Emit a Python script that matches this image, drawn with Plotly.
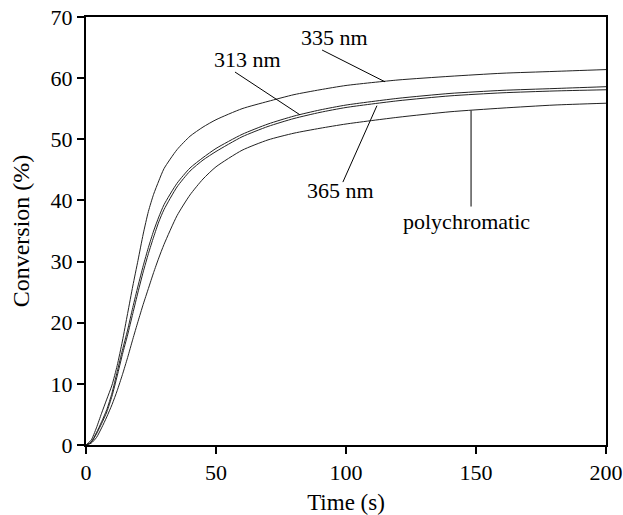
import plotly.graph_objects as go

time_s = [0, 2, 4, 6, 8, 10, 12, 14, 16, 18, 20, 22, 24, 26, 28, 30, 35, 40, 45, 50,
          60, 70, 80, 90, 100, 120, 140, 160, 180, 200]

conv_335 = [0, 0.8, 2.8, 5.2, 7.5, 9.8, 13.0, 17.0, 21.5, 26.0, 30.2, 34.5, 38.2, 41.0,
            43.2, 45.2, 48.3, 50.5, 52.0, 53.2, 55.0, 56.2, 57.3, 58.1, 58.8, 59.7,
            60.3, 60.8, 61.1, 61.4]
conv_313 = [0, 0.5, 2.0, 3.8, 5.8, 8.5, 12.0, 15.5, 18.8, 22.5, 26.0, 29.3, 32.3, 35.0,
            37.3, 39.3, 42.8, 45.3, 47.0, 48.5, 50.8, 52.5, 53.8, 54.8, 55.6, 56.7,
            57.5, 58.0, 58.3, 58.6]
conv_365 = [0, 0.4, 1.8, 3.5, 5.4, 8.0, 11.3, 14.8, 18.0, 21.5, 25.0, 28.3, 31.3, 34.0,
            36.5, 38.5, 42.2, 44.8, 46.6, 48.0, 50.4, 52.1, 53.4, 54.4, 55.2, 56.3,
            57.1, 57.6, 57.9, 58.1]
conv_poly = [0, 0.3, 1.2, 2.8, 4.6, 6.6, 8.9, 11.5, 14.3, 17.3, 20.2, 23.0, 25.6, 28.2,
             30.6, 32.8, 37.5, 40.9, 43.5, 45.5, 48.2, 49.9, 51.0, 51.8, 52.5, 53.6,
             54.5, 55.1, 55.6, 55.9]

series = [("335 nm", conv_335), ("313 nm", conv_313), ("365 nm", conv_365),
          ("polychromatic", conv_poly)]

# label text position and leader line (data coords): text_x, text_y, x0, y0, x1, y1
labels = [
    ("335 nm", 95.4, 66.6, 90.8, 64.6, 115.0, 59.4),
    ("313 nm", 62.3, 63.0, 57.3, 61.0, 82.3, 54.0),
    ("365 nm", 97.7, 41.7, 98.8, 43.0, 111.9, 55.5),
    ("polychromatic", 146.5, 36.5, 148.1, 39.0, 148.1, 54.7),
]

FONT = "Liberation Serif, Times New Roman, serif"

fig = go.Figure()
for name, vals in series:
    fig.add_trace(go.Scatter(x=time_s, y=vals, mode="lines", name=name,
                             line=dict(color="#222222", width=1, shape="spline",
                                       smoothing=0.6),
                             showlegend=False))

for text, tx, ty, x0, y0, x1, y1 in labels:
    fig.add_annotation(x=tx, y=ty, text=text, showarrow=False,
                       font=dict(family=FONT, size=22, color="black"))
    fig.add_shape(type="line", x0=x0, y0=y0, x1=x1, y1=y1,
                  line=dict(color="black", width=1))

fig.update_layout(
    width=623, height=515,
    margin=dict(l=86, r=17, t=17, b=70, autoexpand=False),
    paper_bgcolor="white", plot_bgcolor="white",
    font=dict(family=FONT, size=22, color="black"),
)
fig.update_xaxes(range=[0, 200], tickvals=[0, 50, 100, 150, 200], automargin=False,
                 showgrid=False, zeroline=False, showline=True, linecolor="black",
                 linewidth=2, mirror=True, ticks="outside", ticklen=7,
                 tickcolor="black", tickwidth=1.5, ticklabelstandoff=0,
                 title=dict(text="Time (s)", font=dict(family=FONT, size=23), standoff=13))
fig.update_yaxes(range=[0, 70], tickvals=[0, 10, 20, 30, 40, 50, 60, 70], automargin=False,
                 showgrid=False, zeroline=False, showline=True, linecolor="black",
                 linewidth=2, mirror=True, ticks="outside", ticklen=7,
                 tickcolor="black", tickwidth=1.5,
                 title=dict(text="Conversion (%)", font=dict(family=FONT, size=24), standoff=14))

fig.write_html("out.html")
